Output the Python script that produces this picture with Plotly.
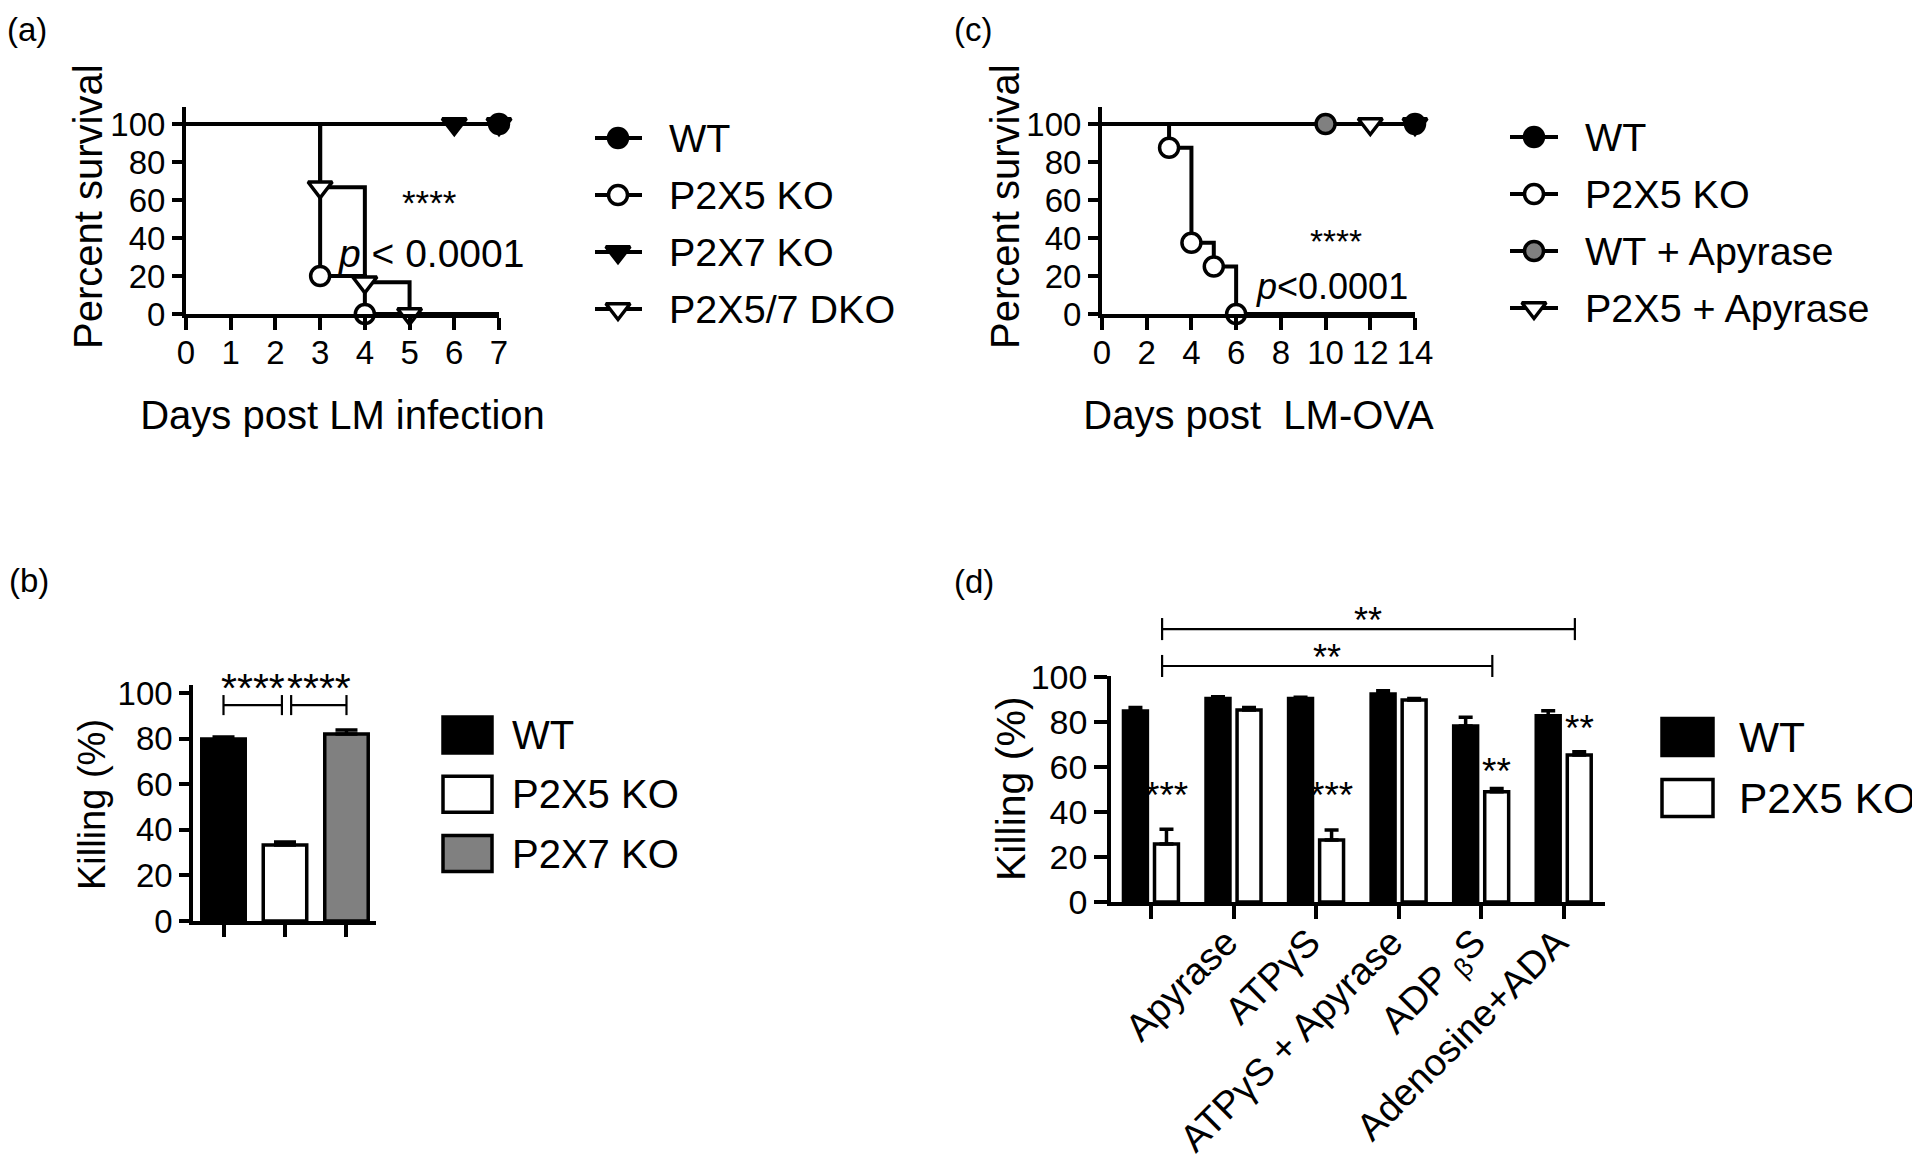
import plotly.graph_objects as go

W, H = 1920, 1160
OFF = 8  # page body margin of the exported html
FONT = "Liberation Sans, Arial, Helvetica, sans-serif"
BLACK = "#000000"
GRAY = "#808080"

# ---------------- data ----------------
# (a) survival after LM infection (Kaplan-Meier steps)
a_names = ["WT", "P2X5 KO", "P2X7 KO", "P2X5/7 DKO"]
a_wt_days = [0, 7]
a_wt_surv = [100, 100]
a_wt_marks = [7]
a_p2x5_days = [0, 3, 4, 7]
a_p2x5_surv = [100, 20, 0, 0]
a_p2x5_marks = [3, 4]
a_p2x7_days = [0, 6, 7]
a_p2x7_surv = [100, 100, 100]
a_p2x7_marks = [6, 7]
a_dko_days = [0, 3, 4, 5, 7]
a_dko_surv = [100, 66.7, 16.7, 0, 0]
a_dko_marks = [3, 4, 5]
a_xticks = [0, 1, 2, 3, 4, 5, 6, 7]
surv_yticks = [0, 20, 40, 60, 80, 100]

# (c) survival after LM-OVA
c_names = ["WT", "P2X5 KO", "WT + Apyrase", "P2X5 + Apyrase"]
c_wt_days = [0, 14]
c_wt_surv = [100, 100]
c_wt_marks = [14]
c_p2x5_days = [0, 3, 4, 5, 6, 14]
c_p2x5_surv = [100, 87.5, 37.5, 25, 0, 0]
c_p2x5_marks = [3, 4, 5, 6]
c_wtapy_days = [0, 10, 14]
c_wtapy_surv = [100, 100, 100]
c_wtapy_marks = [10]
c_koapy_days = [0, 12, 14]
c_koapy_surv = [100, 100, 100]
c_koapy_marks = [12, 14]
c_xticks = [0, 2, 4, 6, 8, 10, 12, 14]

# (b) killing
b_groups = ["WT", "P2X5 KO", "P2X7 KO"]
b_killing = [79.8, 33.3, 82.0]
b_sem = [0.9, 1.3, 1.8]
kill_yticks = [0, 20, 40, 60, 80, 100]

# (d) killing with treatments
d_treatments = ["", "Apyrase", "ATPγS", "ATPγS + Apyrase", "ADP <sub>β</sub>S", "Adenosine+ADA"]
d_groups = ["WT", "P2X5 KO"]
d_wt = [84.9, 90.5, 90.4, 92.4, 78.2, 82.8]
d_wt_sem = [1.6, 0.7, 0.6, 1.5, 3.9, 2.2]
d_ko = [25.8, 85.3, 27.6, 89.8, 49.0, 65.3]
d_ko_sem = [6.5, 1.2, 4.4, 0.7, 1.5, 1.5]
d_ko_stars = ["***", "", "***", "", "**", "**"]

# axis titles
a_xtitle, a_ytitle = "Days post LM infection", "Percent survival"
c_xtitle, c_ytitle = "Days post\u00a0 LM-OVA", "Percent survival"
b_ytitle = d_ytitle = "Killing (%)"

# ---------------- layout geometry (page pixels) ----------------
A_X, A_Y = (186, 499), (107, 314)
C_X = (1102, 1415)
B_X, B_Y = (193, 376), (685, 921)
D_X, D_Y = (1111, 1605), (676, 902)
SURV_TOP = (A_Y[1] - A_Y[0]) / 1.9
B_TOP = (B_Y[1] - B_Y[0]) / 2.28
D_TOP = (D_Y[1] - D_Y[0]) / 2.25
B_RANGE = [-0.496, 2.48]
D_RANGE = [-0.484, 5.50]
BARGAP, BARGROUPGAP = 0.248, 0.229
KO_OFF = (1 - BARGAP) / 4


def dom_x(p):
    return [(p[0] - OFF) / W, (p[1] - OFF) / W]


def dom_y(p):
    return [1 - (p[1] - OFF) / H, 1 - (p[0] - OFF) / H]


def pap_x(px):
    return (px - OFF) / W


def pap_y(py):
    return 1 - (py - OFF) / H


def paper_y(v, py, top):
    d = dom_y(py)
    return d[0] + v / top * (d[1] - d[0])


def axis_style(lw, ticklen, fsize):
    return dict(showline=True, linecolor=BLACK, linewidth=lw, ticks="outside",
                ticklen=ticklen, tickwidth=lw, tickcolor=BLACK, showgrid=False,
                zeroline=False, fixedrange=True, automargin=False,
                tickfont=dict(family=FONT, size=fsize, color=BLACK))


def title(text, size, standoff):
    return dict(text=text, font=dict(family=FONT, size=size, color=BLACK), standoff=standoff)


fig = go.Figure()

MS = 19       # circle marker size
TS = 21       # triangle marker size
MLW = 3.5     # marker outline


def msize(sym):
    return TS if sym.startswith("triangle") else MS


def km_line(days, surv, xa, ya):
    fig.add_trace(go.Scatter(x=days, y=surv, mode="lines",
                             line=dict(shape="hv", color=BLACK, width=4),
                             xaxis=xa, yaxis=ya, showlegend=False,
                             hoverinfo="skip", cliponaxis=False))


def km_marks(days, surv, marks, sym, fill, name, xa, ya):
    lookup = dict(zip(days, surv))
    fig.add_trace(go.Scatter(x=marks, y=[lookup[m] for m in marks], mode="markers",
                             name=name,
                             marker=dict(symbol=sym, size=msize(sym), color=fill,
                                         line=dict(color=BLACK, width=MLW)),
                             xaxis=xa, yaxis=ya, showlegend=False, cliponaxis=False))


# (a)
a_series = [
    (a_dko_days, a_dko_surv, a_dko_marks, "triangle-down", "white", a_names[3]),
    (a_p2x5_days, a_p2x5_surv, a_p2x5_marks, "circle", "white", a_names[1]),
    (a_p2x7_days, a_p2x7_surv, a_p2x7_marks, "triangle-down", BLACK, a_names[2]),
    (a_wt_days, a_wt_surv, a_wt_marks, "circle", BLACK, a_names[0]),
]
for d, s, m, sym, f, n in a_series:
    km_line(d, s, "x", "y")
for d, s, m, sym, f, n in a_series:
    km_marks(d, s, m, sym, f, n, "x", "y")

# (c)
c_series = [
    (c_koapy_days, c_koapy_surv, c_koapy_marks, "triangle-down", "white", c_names[3]),
    (c_wtapy_days, c_wtapy_surv, c_wtapy_marks, "circle", GRAY, c_names[2]),
    (c_p2x5_days, c_p2x5_surv, c_p2x5_marks, "circle", "white", c_names[1]),
    (c_wt_days, c_wt_surv, c_wt_marks, "circle", BLACK, c_names[0]),
]
for d, s, m, sym, f, n in c_series:
    km_line(d, s, "x2", "y2")
for d, s, m, sym, f, n in c_series:
    km_marks(d, s, m, sym, f, n, "x2", "y2")

# (b)
b_colors = [BLACK, "white", GRAY]
fig.add_trace(go.Bar(x=list(range(len(b_groups))), y=b_killing, width=0.707,
                     marker=dict(color=b_colors, line=dict(color=BLACK, width=3.5)),
                     error_y=dict(type="data", array=b_sem, arrayminus=[0] * len(b_sem),
                                  symmetric=False, color=BLACK, thickness=3.5, width=11),
                     xaxis="x3", yaxis="y3", showlegend=False))

# (d)
for vals, sem, fill, name in [(d_wt, d_wt_sem, BLACK, d_groups[0]),
                              (d_ko, d_ko_sem, "white", d_groups[1])]:
    fig.add_trace(go.Bar(x=list(range(len(d_treatments))), y=vals, name=name,
                         marker=dict(color=fill, line=dict(color=BLACK, width=3.5)),
                         error_y=dict(type="data", array=sem, arrayminus=[0] * len(sem),
                                      symmetric=False, color=BLACK, thickness=3.5, width=7),
                         xaxis="x4", yaxis="y4", showlegend=False))

# ---------------- manual legends ----------------
annotations = []
shapes = []


def line_legend(names, styles, xa, ya, kx0, kx1, kc, y0, dy, tx, fsize):
    for i, (n, (sym, fill)) in enumerate(zip(names, styles)):
        yy = y0 + dy * i
        fig.add_trace(go.Scatter(x=[kx0, kx1], y=[yy, yy], mode="lines",
                                 line=dict(color=BLACK, width=4), xaxis=xa, yaxis=ya,
                                 showlegend=False, hoverinfo="skip"))
        fig.add_trace(go.Scatter(x=[kc], y=[yy], mode="markers",
                                 marker=dict(symbol=sym, size=msize(sym), color=fill,
                                             line=dict(color=BLACK, width=MLW)),
                                 xaxis=xa, yaxis=ya, showlegend=False, hoverinfo="skip",
                                 cliponaxis=False))
        annotations.append(dict(x=tx, y=yy, xref=xa, yref=ya, text=n, showarrow=False,
                                xanchor="left", yanchor="middle",
                                font=dict(family=FONT, size=fsize, color=BLACK)))


def box_legend(names, fills, xa, ya, bx0, bx1, bh, y0, dy, tx, fsize):
    for i, (n, fill) in enumerate(zip(names, fills)):
        yy = y0 + dy * i
        shapes.append(dict(type="rect", xref=xa, yref=ya, x0=bx0, x1=bx1,
                           y0=yy - bh / 2, y1=yy + bh / 2, fillcolor=fill,
                           line=dict(color=BLACK, width=3.5)))
        annotations.append(dict(x=tx, y=yy, xref=xa, yref=ya, text=n, showarrow=False,
                                xanchor="left", yanchor="middle",
                                font=dict(family=FONT, size=fsize, color=BLACK)))


a_styles = [("circle", BLACK), ("circle", "white"), ("triangle-down", BLACK), ("triangle-down", "white")]
c_styles = [("circle", BLACK), ("circle", "white"), ("circle", GRAY), ("triangle-down", "white")]
line_legend(a_names, a_styles, "x5", "y5", 5, 52, 28, 28, 57, 77, 39.5)
line_legend(c_names, c_styles, "x6", "y6", 10, 58, 34, 27, 57, 83, 39.5)
box_legend(b_groups, b_colors, "x7", "y7", 13, 62, 36, 35, 59.3, 80, 40)
box_legend(d_groups, [BLACK, "white"], "x8", "y8", 12, 63, 37, 37, 61, 87, 42.5)

# ---------------- significance marks ----------------
STAR_SHIFT = -5.5


def star_paper(x, yp, text, xa, size):
    annotations.append(dict(x=x, y=yp, xref=xa, yref="paper", text=text, showarrow=False,
                            xanchor="center", yanchor="middle", yshift=STAR_SHIFT,
                            font=dict(family=FONT, size=size, color=BLACK)))


# (a) and (c) p-values
star_paper(5.44, paper_y(61.6, A_Y, SURV_TOP), "****", "x", 35)
annotations.append(dict(x=3.36, y=32, xref="x", yref="y", text="<i>p</i> < 0.0001",
                        showarrow=False, xanchor="left", yanchor="middle",
                        font=dict(family=FONT, size=39, color=BLACK)))
star_paper(10.47, paper_y(40.8, A_Y, SURV_TOP), "****", "x2", 33.5)
annotations.append(dict(x=10.3, y=14.7, xref="x2", yref="y2", text="<i>p</i><0.0001",
                        showarrow=False, xanchor="center", yanchor="middle",
                        font=dict(family=FONT, size=36, color=BLACK)))

# (b) brackets
b_brackets = [(0, 0.95), (1.1, 2.0)]
B_LEVEL, B_TICK, B_STAR = 94.7, 4.4, 104.4
for x0, x1 in b_brackets:
    for sh in [dict(x0=x0, x1=x1, y0=B_LEVEL, y1=B_LEVEL),
               dict(x0=x0, x1=x0, y0=B_LEVEL - B_TICK, y1=B_LEVEL + B_TICK),
               dict(x0=x1, x1=x1, y0=B_LEVEL - B_TICK, y1=B_LEVEL + B_TICK)]:
        shapes.append(dict(type="line", xref="x3", yref="y3", line=dict(color=BLACK, width=2.2), **sh))
    star_paper((x0 + x1) / 2, paper_y(B_STAR, B_Y, B_TOP), "****", "x3", 41)

# (d) brackets (above the plotting range -> paper y)
d_brackets = [(0, 4, 104.9, 111.1), (0, 5, 121.3, 127.6)]
D_TICK = 4.9
BR_OFF = 0.135
for g0, g1, lev, slev in d_brackets:
    x0, x1 = g0 + BR_OFF, g1 + BR_OFF
    for sh in [dict(x0=x0, x1=x1, y0=paper_y(lev, D_Y, D_TOP), y1=paper_y(lev, D_Y, D_TOP)),
               dict(x0=x0, x1=x0, y0=paper_y(lev - D_TICK, D_Y, D_TOP), y1=paper_y(lev + D_TICK, D_Y, D_TOP)),
               dict(x0=x1, x1=x1, y0=paper_y(lev - D_TICK, D_Y, D_TOP), y1=paper_y(lev + D_TICK, D_Y, D_TOP))]:
        shapes.append(dict(type="line", xref="x4", yref="paper", line=dict(color=BLACK, width=2.2), **sh))
    star_paper((x0 + x1) / 2, paper_y(slev, D_Y, D_TOP), "**", "x4", 36)

d_star_level = [49.8, 0, 49.8, 0, 60.4, 79.7]
for i, (txt, lev) in enumerate(zip(d_ko_stars, d_star_level)):
    if txt:
        star_paper(i + KO_OFF, paper_y(lev, D_Y, D_TOP), txt, "x4", 37)

# panel letters
for txt, px, py in [("(a)", 5, 29), ("(c)", 952, 29), ("(b)", 7, 580), ("(d)", 952, 581)]:
    annotations.append(dict(x=pap_x(px), y=pap_y(py), xref="paper", yref="paper", text=txt,
                            showarrow=False, xanchor="left", yanchor="middle",
                            font=dict(family=FONT, size=33, color=BLACK)))

# y-axis titles (rotated text beside each axis)
for txt, px, py, fs in [(a_ytitle, 88, 207, 40), (c_ytitle, 1005, 207, 40),
                        (b_ytitle, 92, 805, 38), (d_ytitle, 1011, 788, 41)]:
    annotations.append(dict(x=pap_x(px), y=pap_y(py), xref="paper", yref="paper", text=txt,
                            textangle=-90, showarrow=False, xanchor="center", yanchor="middle",
                            font=dict(family=FONT, size=fs, color=BLACK)))

# ---------------- axes ----------------
layout = dict(
    template="none",
    width=W, height=H, margin=dict(l=0, r=0, t=0, b=0, pad=0), autosize=False,
    paper_bgcolor="white", plot_bgcolor="white",
    barmode="group", bargap=BARGAP, bargroupgap=BARGROUPGAP,
    showlegend=False, font=dict(family=FONT, color=BLACK),
    annotations=annotations, shapes=shapes,
)

layout["xaxis"] = dict(domain=dom_x(A_X), range=[0, 7], anchor="y", tickvals=a_xticks,
                       ticklabelstandoff=-6,
                       title=title(a_xtitle, 40, 32), **axis_style(4, 12, 33))
layout["yaxis"] = dict(domain=dom_y(A_Y), range=[0, SURV_TOP], anchor="x", tickvals=surv_yticks,
                       **axis_style(4, 10, 33))
layout["xaxis2"] = dict(domain=dom_x(C_X), range=[0, 14], anchor="y2", tickvals=c_xticks,
                        ticklabelstandoff=-6,
                        title=title(c_xtitle, 40, 32), **axis_style(4, 12, 33))
layout["yaxis2"] = dict(domain=dom_y(A_Y), range=[0, SURV_TOP], anchor="x2", tickvals=surv_yticks,
                        **axis_style(4, 10, 33))
layout["xaxis3"] = dict(domain=dom_x(B_X), range=B_RANGE, anchor="y3",
                        tickvals=list(range(len(b_groups))), ticktext=[""] * len(b_groups),
                        **axis_style(3.5, 12, 33))
layout["yaxis3"] = dict(domain=dom_y(B_Y), range=[0, B_TOP], anchor="x3", tickvals=kill_yticks,
                        **axis_style(3.5, 10, 33))
layout["xaxis4"] = dict(domain=dom_x(D_X), range=D_RANGE, anchor="y4",
                        tickvals=list(range(len(d_treatments))), ticktext=d_treatments,
                        tickangle=-45, ticklabelstandoff=-14, ticklabelshift=-7,
                        **axis_style(3.5, 13, 38))
layout["yaxis4"] = dict(domain=dom_y(D_Y), range=[0, D_TOP], anchor="x4", tickvals=kill_yticks,
                        **axis_style(3.5, 13, 34))

legend_boxes = {
    "5": ((590, 900), (110, 335)),
    "6": ((1500, 1920), (110, 335)),
    "7": ((430, 800), (700, 890)),
    "8": ((1650, 1920), (700, 840)),
}
for k, (bx, by) in legend_boxes.items():
    layout["xaxis" + k] = dict(domain=dom_x(bx), range=[0, bx[1] - bx[0]], visible=False,
                               fixedrange=True, anchor="y" + k, automargin=False)
    layout["yaxis" + k] = dict(domain=dom_y(by), range=[by[1] - by[0], 0], visible=False,
                               fixedrange=True, anchor="x" + k, automargin=False)

fig.update_layout(**layout)
fig.write_html("out.html")
